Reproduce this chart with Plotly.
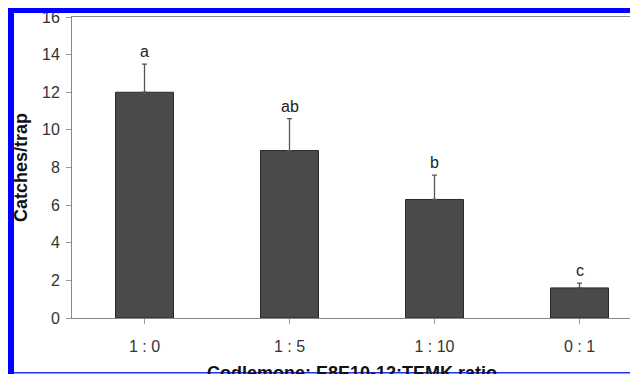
import plotly.graph_objects as go

categories = ["1 : 0", "1 : 5", "1 : 10", "0 : 1"]
catches = [12.0, 8.9, 6.3, 1.6]
errors = [1.5, 1.7, 1.3, 0.25]
letters = ["a", "ab", "b", "c"]
y_ticks = [0, 2, 4, 6, 8, 10, 12, 14, 16]

# the page body has an 8px margin, so the figure starts at (8, 8) of the window
OFF = 8
W, H = 638 - OFF, 374 - OFF
ML, MR, MT, MB = 64, 0, 9, 56
PW, PH = W - ML - MR, H - MT - MB


def px_x(x):  # window pixel -> paper x
    return (x - OFF - ML) / PW


def px_y(y):  # window pixel -> paper y
    return (H - MB - (y - OFF)) / PH


font = "Arial, Liberation Sans, sans-serif"

fig = go.Figure()
fig.add_trace(go.Bar(
    x=list(range(len(categories))), y=catches, width=0.4,
    marker=dict(color="#4a4a4a", line=dict(color="#2a2a2a", width=1)),
    error_y=dict(type="data", symmetric=False, array=errors,
                 arrayminus=[0] * len(errors), color="#555555",
                 thickness=1.3, width=2.5),
))

for i, (v, e, t) in enumerate(zip(catches, errors, letters)):
    fig.add_annotation(x=i, y=v + e, text=t, showarrow=False, yanchor="bottom",
                       yshift=2, font=dict(family=font, size=16, color="#222"))

fig.add_annotation(xref="paper", yref="paper", x=px_x(352), y=px_y(361),
                   text="<b>Codlemone: E8E10-12:TEMK ratio</b>", showarrow=False,
                   yanchor="top", xanchor="center",
                   font=dict(family=font, size=18, color="#111"))
fig.add_annotation(xref="paper", yref="paper", x=px_x(21), y=px_y(168),
                   text="<b>Catches/trap</b>", showarrow=False, textangle=-90,
                   xanchor="center", yanchor="middle",
                   font=dict(family=font, size=18, color="#111"))

blue = "#0000ff"
shapes = [
    dict(type="rect", xref="paper", yref="paper", x0=px_x(8), x1=px_x(638),
         y0=px_y(7), y1=px_y(13), fillcolor=blue, line=dict(width=0), layer="above"),
    dict(type="rect", xref="paper", yref="paper", x0=px_x(8), x1=px_x(14),
         y0=px_y(7), y1=px_y(374), fillcolor=blue, line=dict(width=0), layer="above"),
    dict(type="rect", xref="paper", yref="paper", x0=px_x(14), x1=px_x(638),
         y0=px_y(372), y1=px_y(373.6), fillcolor="#2233ee", line=dict(width=0), layer="above"),
]

fig.update_layout(
    width=W, height=H, margin=dict(l=ML, r=MR, t=MT, b=MB, pad=0),
    paper_bgcolor="white", plot_bgcolor="white", showlegend=False,
    shapes=shapes,
    xaxis=dict(range=[-0.5, -0.5 + PW / 145.0], tickmode="array",
               tickvals=list(range(len(categories))), ticktext=categories,
               tickson="boundaries", ticks="outside", ticklen=5, tickcolor="#999",
               showline=True, linecolor="#888", linewidth=1, mirror=True,
               showgrid=False, zeroline=False,
               tickfont=dict(family=font, size=16, color="#333"), ticklabelstandoff=9),
    yaxis=dict(range=[0, 16], tickvals=y_ticks, ticks="outside", ticklen=5,
               tickcolor="#999", showline=True, linecolor="#888", linewidth=1,
               showgrid=False, zeroline=False, ticklabelstandoff=3,
               tickfont=dict(family=font, size=16, color="#333")),
)

fig.write_html("out.html")
